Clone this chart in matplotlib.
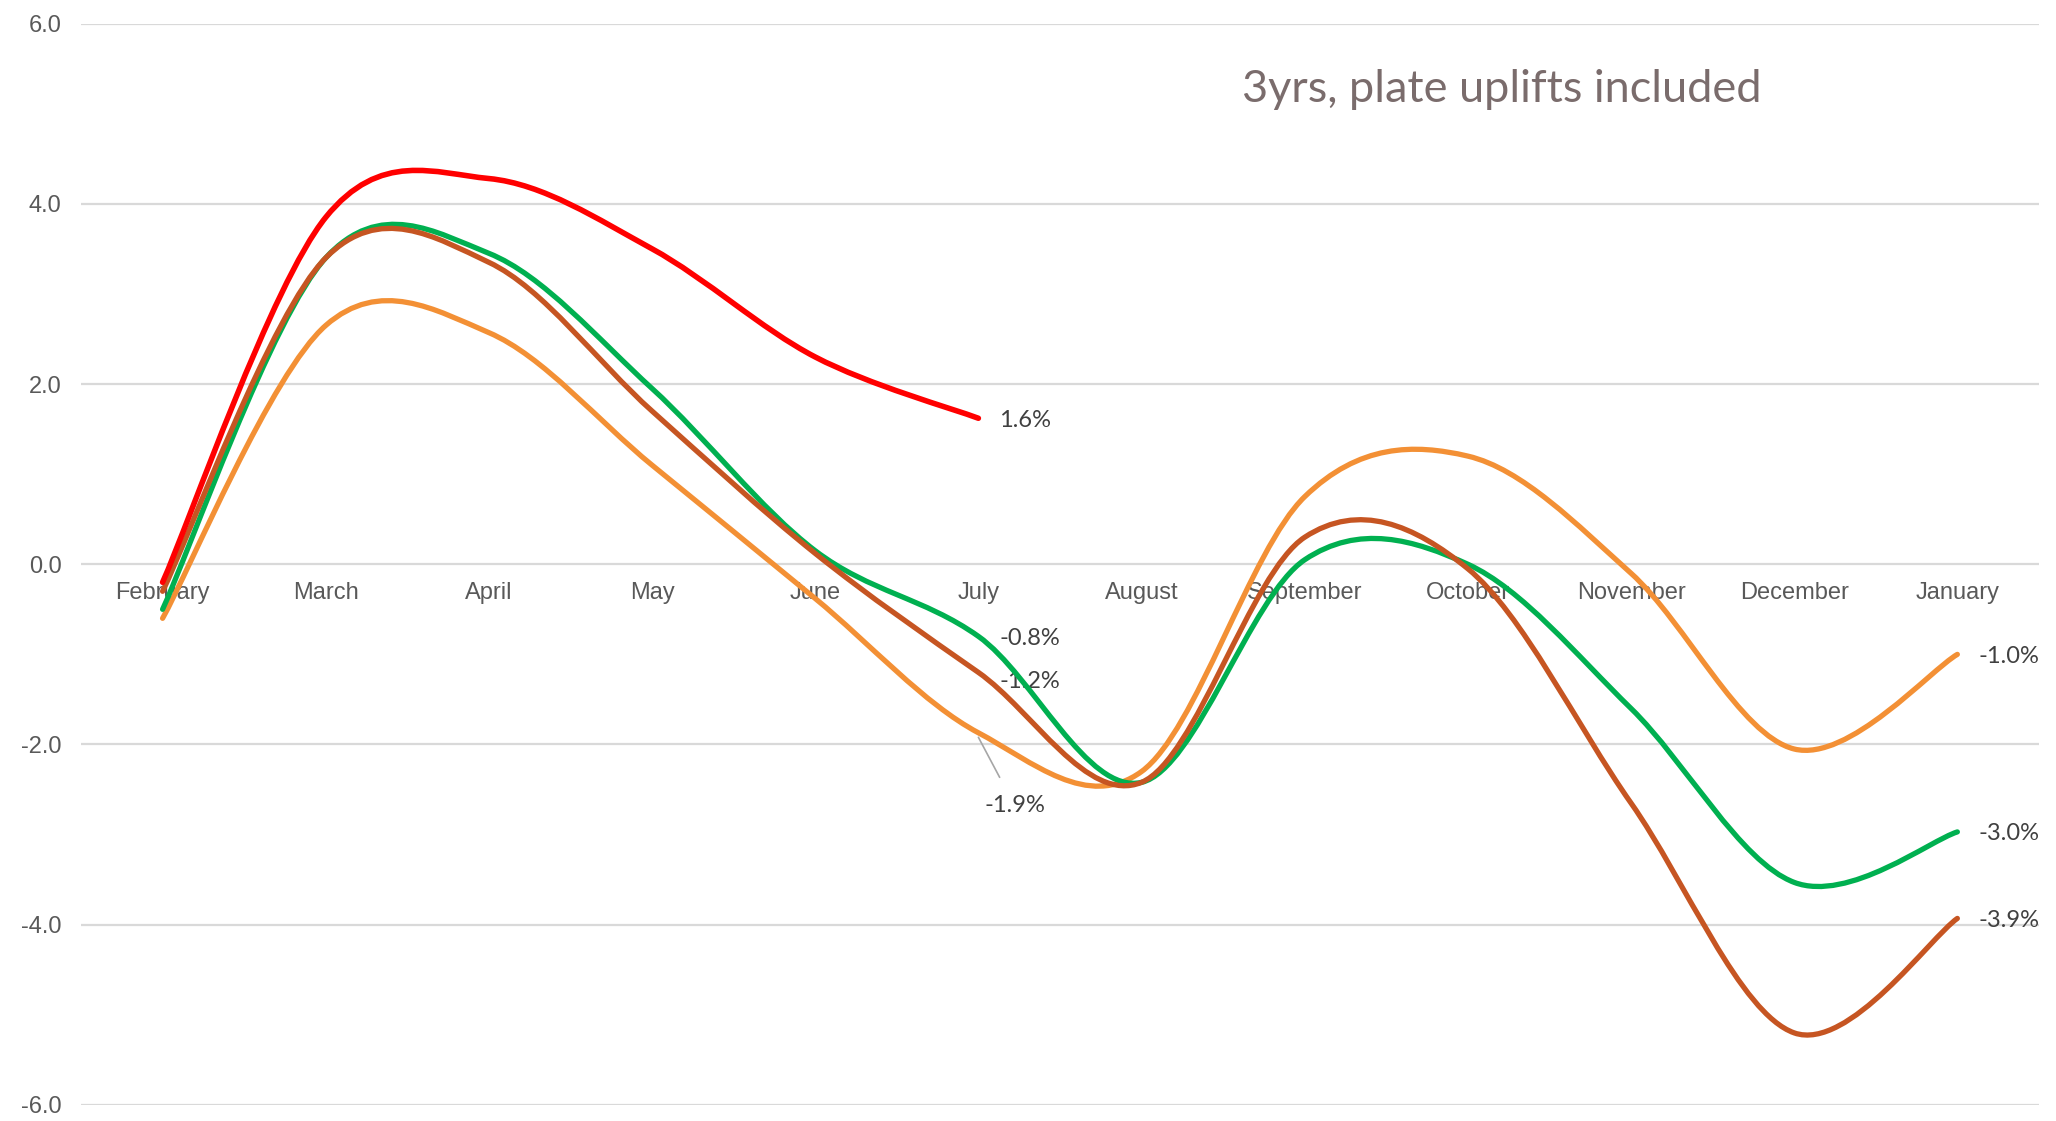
import matplotlib
matplotlib.use("Agg")
import matplotlib.pyplot as plt
from matplotlib.path import Path
from matplotlib.patches import PathPatch
import numpy as np

months = ["February", "March", "April", "May", "June", "July", "August",
          "September", "October", "November", "December", "January"]

red_vals    = [-0.2, 3.85, 4.28, 3.5, 2.3, 1.62]
green_vals  = [-0.5, 3.4, 3.45, 1.95, 0.15, -0.8, -2.42, 0.05, 0.0, -1.6, -3.53, -2.97]
brown_vals  = [-0.3, 3.4, 3.35, 1.7, 0.12, -1.2, -2.42, 0.3, -0.05, -2.65, -5.2, -3.93]
orange_vals = [-0.6, 2.65, 2.57, 1.1, -0.38, -1.87, -2.3, 0.75, 1.2, -0.1, -2.05, -1.0]

y_ticks = [-6.0, -4.0, -2.0, 0.0, 2.0, 4.0, 6.0]

RED = "#FF0000"
GREEN = "#00B050"
BROWN = "#C65522"
ORANGE = "#F39035"

fig = plt.figure(figsize=(20.56, 11.21), dpi=100)
ax = fig.add_axes([0.0394, 0.0143, 0.9523, 0.9647])


def smooth_path(vals):
    x = np.arange(len(vals), dtype=float)
    y = np.asarray(vals, dtype=float)
    n = len(y)
    verts = [(x[0], y[0])]
    codes = [Path.MOVETO]
    for i in range(n - 1):
        xm1, ym1 = (x[i - 1], y[i - 1]) if i > 0 else (x[i], y[i])
        xp2, yp2 = (x[i + 2], y[i + 2]) if i + 2 < n else (x[i + 1], y[i + 1])
        c1 = (x[i] + (x[i + 1] - xm1) / 6, y[i] + (y[i + 1] - ym1) / 6)
        c2 = (x[i + 1] - (xp2 - x[i]) / 6, y[i + 1] - (yp2 - y[i]) / 6)
        verts += [c1, c2, (x[i + 1], y[i + 1])]
        codes += [Path.CURVE4] * 3
    return Path(verts, codes)


for vals, col, z, lw in [(orange_vals, ORANGE, 3, 3.8), (green_vals, GREEN, 4, 3.8),
                         (brown_vals, BROWN, 5, 3.8), (red_vals, RED, 6, 4.0)]:
    patch = PathPatch(smooth_path(vals), facecolor="none", edgecolor=col,
                      lw=lw, capstyle="round", joinstyle="round", zorder=z)
    ax.add_patch(patch)

ax.set_xlim(-0.5, len(months) - 0.5)
ax.set_ylim(-6.0, 6.0)
ax.set_yticks(y_ticks)
ax.set_yticklabels([f"{v:.1f}" for v in y_ticks])
ax.set_xticks(range(len(months)))
ax.set_xticklabels(months)

ax.grid(axis="y", color="#D9D9D9", lw=1.6, zorder=0)
ax.set_axisbelow(True)
for s in ["top", "right", "left"]:
    ax.spines[s].set_visible(False)
ax.spines["bottom"].set_position(("data", 0))
ax.spines["bottom"].set_visible(False)
ax.tick_params(axis="x", length=0, pad=13, labelsize=17, labelcolor="#595959")
ax.tick_params(axis="y", length=0, pad=14, labelsize=17, labelcolor="#595959")
for t in ax.get_xticklabels() + ax.get_yticklabels():
    t.set_fontfamily("Liberation Sans")

lab_font = dict(fontfamily="Lato", fontsize=17, color="#404040")

def end_label(xi, val, txt):
    ax.annotate(txt, xy=(xi, val), xytext=(15, 0), textcoords="offset points",
                ha="left", va="center", **lab_font)

end_label(5, red_vals[-1] - 0.02, "1.6%")
end_label(5, green_vals[5] - 0.02, "-0.8%")
end_label(5, brown_vals[5] - 0.1, "-1.2%")
end_label(11, orange_vals[-1] - 0.02, "-1.0%")
end_label(11, green_vals[-1] - 0.02, "-3.0%")
end_label(11, brown_vals[-1] - 0.02, "-3.9%")

ax.annotate("-1.9%", xy=(5.0, orange_vals[5] - 0.05), xytext=(26, -49),
            textcoords="offset points", ha="center", va="center",
            arrowprops=dict(arrowstyle="-", color="#A6A6A6", lw=1.2,
                            shrinkA=12, shrinkB=0),
            **lab_font)

fig.text(0.604, 0.920, "3yrs, plate uplifts included", fontfamily="Lato",
         fontsize=32.5, color="#7A6C6C", ha="left", va="center")

fig.savefig("out.png", dpi=100, facecolor="white")
